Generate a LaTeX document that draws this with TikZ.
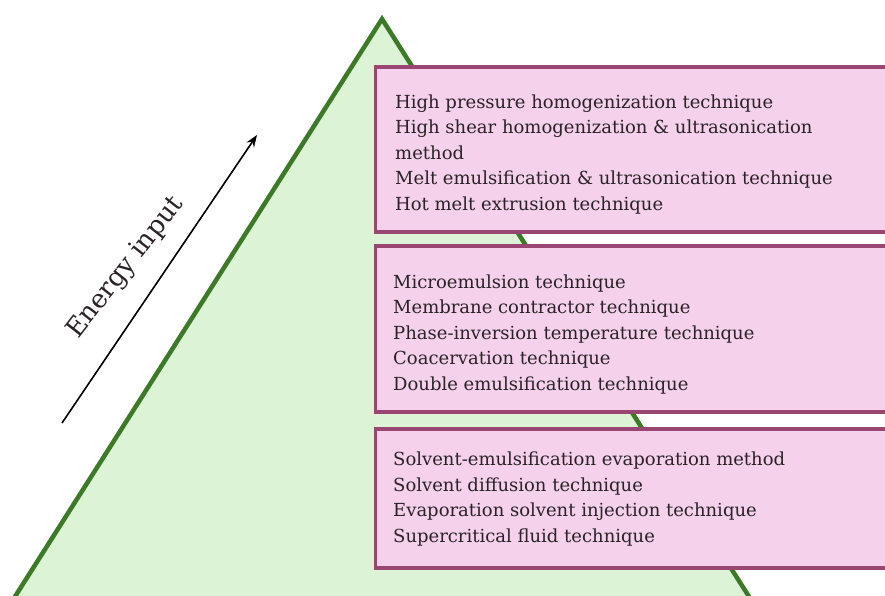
\documentclass[tikz,border=0pt]{standalone}
\usepackage{fontspec}
\setmainfont{DejaVu Serif}
\usetikzlibrary{arrows.meta}
\definecolor{trifill}{HTML}{DDF3D5}
\definecolor{tridraw}{HTML}{3C7A27}
\definecolor{boxfill}{HTML}{F5D1EB}
\definecolor{boxdraw}{HTML}{9A4672}
\definecolor{txt}{HTML}{2A2226}
\tikzset{
  tri/.style={fill=trifill, draw=tridraw, line width=4.5pt, line join=miter},
  techbox/.style={fill=boxfill, draw=boxdraw, line width=3.5pt},
  techtext/.style={anchor=base west, inner sep=0pt, align=left, text=txt,
    font=\fontsize{18}{25.5}\selectfont},
  energy/.style={inner sep=0pt, text=txt, font=\fontsize{26}{30}\selectfont, rotate=52},
  energyarrow/.style={-{Stealth[length=12pt,width=9pt]}, line width=1.6pt, black}
}
\begin{document}
\begin{tikzpicture}[x=1pt,y=-1pt]
\useasboundingbox (0,0) rectangle (885,595);
\clip (0,0) rectangle (885,595);
\fill[white] (0,0) rectangle (885,595);
% pyramid
\coordinate (apex) at (382,19);
\coordinate (bl) at (9,606);
\coordinate (br) at (755,606);
\draw[tri] (apex) -- (br) -- (bl) -- cycle;
% boxes
\draw[techbox] (375.5,67) rectangle (900,232);
\draw[techbox] (375.5,246) rectangle (900,412);
\draw[techbox] (375.5,429) rectangle (900,568);
\node[techtext] (t1) at (395,210) {High pressure homogenization technique\\High shear homogenization \& ultrasonication\\method\\Melt emulsification \& ultrasonication technique\\Hot melt extrusion technique};
\node[techtext] (t2) at (393,390) {Microemulsion technique\\Membrane contractor technique\\Phase-inversion temperature technique\\Coacervation technique\\Double emulsification technique};
\node[techtext] (t3) at (393,542) {Solvent-emulsification evaporation method\\Solvent diffusion technique\\Evaporation solvent injection technique\\Supercritical fluid technique};
% energy arrow
\coordinate (atail) at (62,423);
\coordinate (ahead) at (257,135);
\draw[energyarrow] (atail) -- (ahead);
\node[energy] (elabel) at (126,268) {Energy input};
\end{tikzpicture}
\end{document}
